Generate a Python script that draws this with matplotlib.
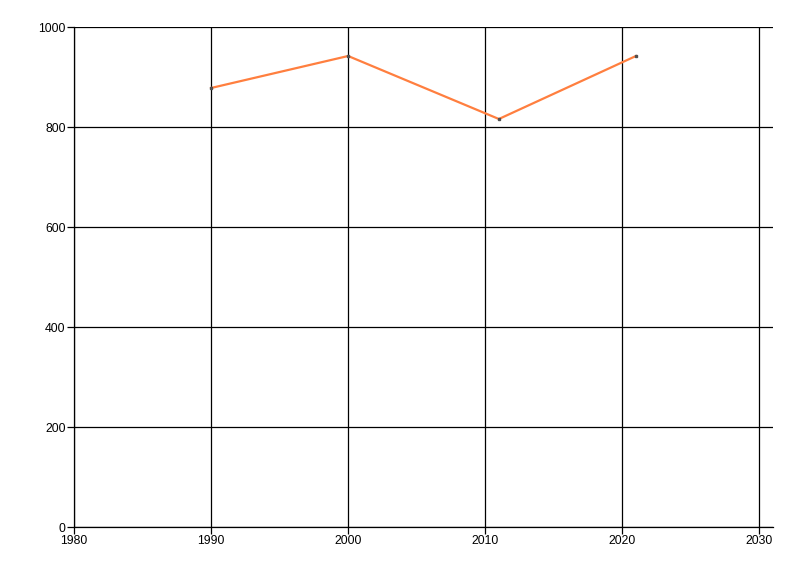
import matplotlib
matplotlib.use("Agg")
import matplotlib.pyplot as plt

years = [1990, 2000, 2011, 2021]
values = [878, 942, 816, 942]
x_ticks = [1980, 1990, 2000, 2010, 2020, 2030]
y_ticks = [0, 200, 400, 600, 800, 1000]

plt.rcParams["font.family"] = ["Liberation Sans", "DejaVu Sans"]

fig = plt.figure(figsize=(8, 5.76), dpi=100)
ax = fig.add_axes([74 / 800, 1 - 527 / 576, (773 - 74) / 800, 500 / 576])

ax.plot(years, values, color="#ff7f3f", linewidth=1.6, zorder=3)
ax.plot(years, values, linestyle="none", marker="s", markersize=1.5,
        color="#505050", zorder=4)

ax.set_xlim(1980, 2031)
ax.set_ylim(0, 1000)
ax.set_xticks(x_ticks)
ax.set_yticks(y_ticks)
ax.grid(True, color="black", linewidth=0.9)
ax.set_axisbelow(True)

for side in ["top", "right"]:
    ax.spines[side].set_visible(False)
for side in ["left", "bottom"]:
    ax.spines[side].set_linewidth(0.9)

ax.tick_params(direction="out", length=5, width=0.9, labelsize=8.8, pad=1)

fig.savefig("out.png", dpi=100)
